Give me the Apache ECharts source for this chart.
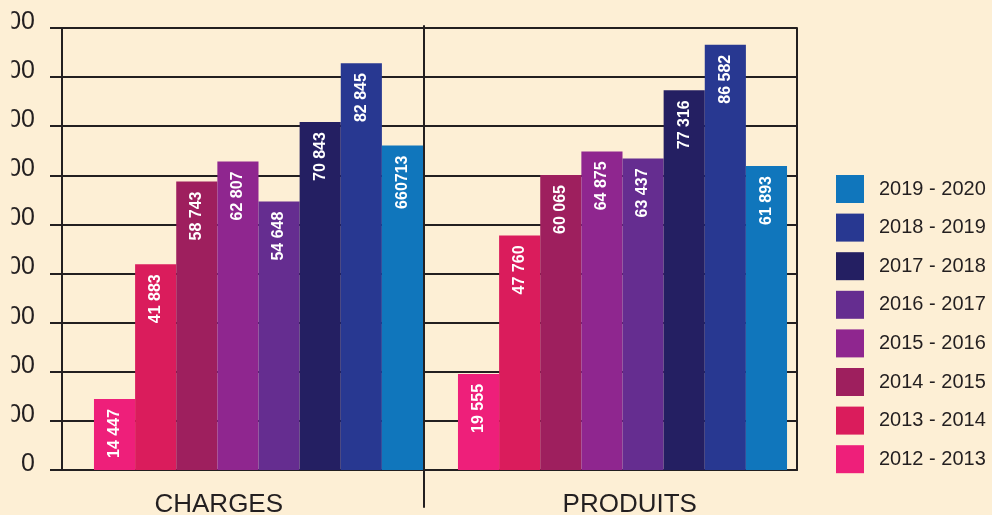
<!DOCTYPE html>
<html>
<head>
<meta charset="utf-8">
<script src="https://cdn.jsdelivr.net/npm/echarts@6/dist/echarts.min.js"></script>
<style>
html,body{margin:0;padding:0;background:#fdefd5;}
#chart{width:992px;height:515px;}
</style>
</head>
<body>
<div id="chart"></div>
<script>
const groups = ['CHARGES', 'PRODUITS'];
const seasons = ['2012 - 2013', '2013 - 2014', '2014 - 2015', '2015 - 2016', '2016 - 2017', '2017 - 2018', '2018 - 2019', '2019 - 2020'];
const charges = [14447, 41883, 58743, 62807, 54648, 70843, 82845, 66071];
const produits = [19555, 47760, 60065, 64875, 63437, 77316, 86582, 61893];
const chargesLabels = ['14 447', '41 883', '58 743', '62 807', '54 648', '70 843', '82 845', '660713'];
const produitsLabels = ['19 555', '47 760', '60 065', '64 875', '63 437', '77 316', '86 582', '61 893'];
const colors = ['#ee1f7a', '#da1c5c', '#9e1f5e', '#8f268f', '#652d90', '#241f62', '#283891', '#1076bc'];

const FONT = '"Liberation Sans", Arial, sans-serif';
const INK = '#231f20';
const BG = '#fdefd5';

const chart = echarts.init(document.getElementById('chart'), null, {renderer: 'canvas'});

const series = seasons.map((s, i) => ({
  name: s,
  type: 'bar',
  xAxisIndex: 1,
  yAxisIndex: 2,
  barGap: 0,
  barCategoryGap: '9.6%',
  itemStyle: {color: colors[i]},
  data: [charges[i], produits[i]],
  label: {
    show: true,
    position: 'insideTop',
    distance: 10,
    rotate: 90,
    align: 'right',
    verticalAlign: 'middle',
    color: '#ffffff',
    fontFamily: FONT,
    fontWeight: 'bold',
    fontSize: 16,
    formatter: p => (p.dataIndex === 0 ? chargesLabels : produitsLabels)[i]
  },
  z: 3
}));

chart.setOption({
  animation: false,
  backgroundColor: BG,
  textStyle: {fontFamily: FONT},
  grid: [
    {left: 62, right: 195, top: 28, bottom: 45, outerBoundsMode: 'none', containLabel: false},
    {left: 76.5, right: 187.5, top: 28, bottom: 45, outerBoundsMode: 'none', containLabel: false},
    {left: 424, width: 1, top: 26, bottom: 8, outerBoundsMode: 'none', containLabel: false}
  ],
  legend: {
    orient: 'vertical',
    left: 836,
    top: 175,
    padding: 0,
    itemWidth: 28,
    itemHeight: 28,
    itemGap: 10.6,
    icon: 'rect',
    data: seasons.slice().reverse(),
    textStyle: {fontSize: 20, color: INK, fontFamily: FONT, padding: [0, 0, 0, 10]}
  },
  xAxis: [
    {
      type: 'category',
      gridIndex: 0,
      data: groups,
      axisLine: {show: true, lineStyle: {color: INK, width: 2}},
      axisTick: {show: false},
      splitLine: {show: false},
      axisLabel: {
        margin: 22,
        interval: 0,
        fontSize: 26,
        color: INK,
        fontFamily: FONT,
        formatter: v => v === 'CHARGES' ? '{c|' + v + '}' : '{p|' + v + '}',
        rich: {
          c: {fontSize: 26, color: INK, fontFamily: FONT, padding: [0, 54, 0, 0]},
          p: {fontSize: 26, color: INK, fontFamily: FONT, padding: [0, 0, 0, 33]}
        }
      }
    },
    {
      type: 'category',
      gridIndex: 1,
      data: groups,
      show: false
    },
    {
      type: 'category',
      gridIndex: 2,
      data: [''],
      show: false
    }
  ],
  yAxis: [
    {
      type: 'value',
      gridIndex: 0,
      min: 0,
      max: 90000,
      interval: 10000,
      axisLine: {show: true, lineStyle: {color: INK, width: 2}},
      axisTick: {show: true, length: 12, lineStyle: {color: INK, width: 2}},
      splitLine: {show: true, lineStyle: {color: INK, width: 2}},
      axisLabel: {
        margin: 27,
        fontSize: 25,
        color: INK,
        fontFamily: FONT,
        verticalAlign: 'middle',
        formatter: v => '{t|' + (v === 0 ? '0' : (v / 1000) + ' 000') + '}',
        rich: {
          t: {fontSize: 25, color: INK, fontFamily: FONT, padding: [0, 0, 12, 0]}
        }
      }
    },
    {
      type: 'value',
      gridIndex: 0,
      position: 'right',
      min: 0,
      max: 90000,
      interval: 10000,
      axisLine: {show: true, lineStyle: {color: INK, width: 2}},
      axisTick: {show: false},
      axisLabel: {show: false},
      splitLine: {show: false}
    },
    {
      type: 'value',
      gridIndex: 1,
      min: 0,
      max: 90000,
      interval: 10000,
      show: false
    },
    {
      type: 'value',
      gridIndex: 2,
      min: 0,
      max: 1,
      axisLine: {show: true, lineStyle: {color: INK, width: 2}},
      axisTick: {show: false},
      axisLabel: {show: false},
      splitLine: {show: false}
    }
  ],
  graphic: [
    {
      type: 'rect',
      left: 0,
      top: 0,
      shape: {width: 11.5, height: 515},
      style: {fill: BG},
      z: 100
    }
  ],
  series: series
});
</script>
</body>
</html>
